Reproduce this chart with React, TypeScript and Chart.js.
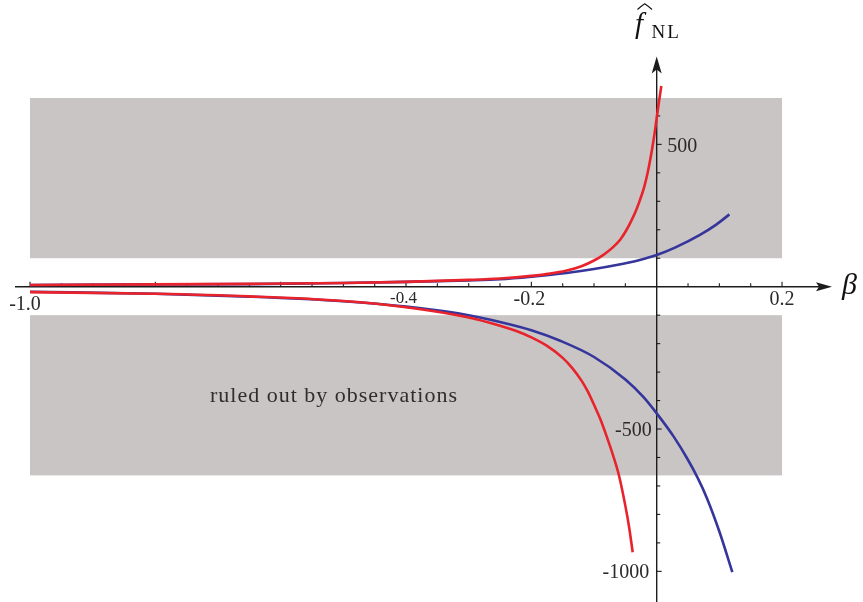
import React, { useEffect, useRef } from 'react';
import { Chart, registerables } from 'chart.js';

Chart.register(...registerables);

// ---- data ----
const redUpperBeta = [-1.0, -0.8, -0.65, -0.5, -0.4, -0.3, -0.25, -0.2, -0.17, -0.145, -0.12, -0.1, -0.085, -0.07, -0.058, -0.048, -0.04, -0.033, -0.0266, -0.02, -0.014, -0.008, -0.003, 0.002, 0.0074];
const redUpperF = [6, 8, 10, 13, 17, 24, 29, 38, 46, 56, 72, 92, 112, 138, 166, 200, 234, 268, 305, 350, 405, 475, 545, 625, 705];

const blueUpperBeta = [-1.0, -0.8, -0.65, -0.5, -0.4, -0.3, -0.25, -0.2, -0.144, -0.1, -0.064, -0.03, 0, 0.03, 0.069, 0.095, 0.116];
const blueUpperF = [6, 8, 9, 13, 17, 22, 26, 35, 48, 62, 76, 92, 111, 138, 182, 218, 254];

const redLowerBeta = [-1.0, -0.8, -0.65, -0.5, -0.4, -0.3, -0.25, -0.225, -0.2, -0.175, -0.15, -0.135, -0.12, -0.11, -0.1, -0.09, -0.08, -0.07, -0.06, -0.05, -0.044, -0.0383];
const redLowerF = [-19, -25, -34, -50, -72, -108, -137, -155, -178, -208, -250, -285, -330, -368, -415, -465, -525, -590, -665, -770, -845, -933];

const blueLowerBeta = [-1.0, -0.8, -0.65, -0.5, -0.4, -0.3, -0.25, -0.2, -0.154, -0.1, -0.05, -0.021, 0, 0.0266, 0.048, 0.065, 0.08, 0.1, 0.1207];
const blueLowerF = [-18, -25, -35, -51, -70, -100, -124, -153, -190, -247, -326, -388, -445, -525, -601, -670, -742, -860, -1003];

// shaded "ruled out" bands (|f| between inner and outer, beta between start and end)
const bandBetaRange = [-1.0, 0.2];
const bandInner = 100;
const bandOuter = 663;
const bandText = 'ruled out by observations';
const bandTextPos = [-0.515, -405];

// axis ticks / labels
const xTickStep = 0.05;
const xTickRange = [-1.0, 0.2];
const xLabelValues = [-1.0, -0.4, -0.2, 0.2];
const xLabelTexts = ['-1.0', '-0.4', '-0.2', '0.2'];
const yTickStep = 100;
const yTickRange = [-1000, 600];
const yLabelValues = [500, -500, -1000];
const yLabelTexts = ['500', '-500', '-1000'];

const X_MIN = -1.0479;
const X_MAX = 0.3292;
const Y_MIN = -1107.7;
const Y_MAX = 1007.2;

const RED = '#e8232b';
const BLUE = '#35359b';
const BAND = '#cac5c5';
const INK = '#1c1c1c';
const SERIF = '"Liberation Serif", "Times New Roman", serif';

const zip = (xs: number[], ys: number[]) => xs.map((x, i) => ({ x, y: ys[i] }));

const mathAxes = {
  id: 'mathAxes',
  beforeDatasetsDraw(chart: any) {
    const ctx = chart.ctx as CanvasRenderingContext2D;
    const xs = chart.scales.x;
    const ys = chart.scales.y;
    const px = (v: number) => xs.getPixelForValue(v);
    const py = (v: number) => ys.getPixelForValue(v);
    ctx.save();

    // bands
    ctx.fillStyle = BAND;
    const bx0 = px(bandBetaRange[0]);
    const bx1 = px(bandBetaRange[1]);
    ctx.fillRect(bx0, py(bandOuter), bx1 - bx0, py(bandInner) - py(bandOuter));
    ctx.fillRect(bx0, py(-bandInner), bx1 - bx0, py(-bandOuter) - py(-bandInner));

    // band caption
    ctx.fillStyle = '#2e2e2e';
    ctx.font = `22px ${SERIF}`;
    (ctx as any).letterSpacing = '1px';
    ctx.textAlign = 'center';
    ctx.textBaseline = 'alphabetic';
    ctx.fillText(bandText, px(bandTextPos[0]), py(bandTextPos[1]));
    (ctx as any).letterSpacing = '0px';

    const x0 = px(0);
    const y0 = py(0);
    ctx.strokeStyle = INK;
    ctx.fillStyle = INK;
    ctx.lineWidth = 1.4;

    // x axis
    const xStart = 15;
    const xTip = 832;
    ctx.beginPath();
    ctx.moveTo(xStart, y0);
    ctx.lineTo(xTip - 12, y0);
    ctx.stroke();
    ctx.beginPath();
    ctx.moveTo(xTip, y0);
    ctx.lineTo(xTip - 16, y0 - 4.5);
    ctx.lineTo(xTip - 13, y0);
    ctx.lineTo(xTip - 16, y0 + 4.5);
    ctx.closePath();
    ctx.fill();

    // y axis
    const yTip = 56.5;
    const yBottom = chart.height;
    ctx.beginPath();
    ctx.moveTo(x0, yBottom);
    ctx.lineTo(x0, yTip + 12);
    ctx.stroke();
    ctx.beginPath();
    ctx.moveTo(x0, yTip);
    ctx.lineTo(x0 - 5, yTip + 17);
    ctx.lineTo(x0, yTip + 13);
    ctx.lineTo(x0 + 5, yTip + 17);
    ctx.closePath();
    ctx.fill();

    // x ticks (upwards)
    ctx.lineWidth = 1.1;
    const nx = Math.round((xTickRange[1] - xTickRange[0]) / xTickStep);
    for (let i = 0; i <= nx; i++) {
      const v = xTickRange[0] + i * xTickStep;
      if (Math.abs(v) < 1e-9) continue;
      const major = Math.abs(Math.round(v / 0.2) * 0.2 - v) < 1e-6;
      const len = major ? 5 : 3.5;
      const x = px(v);
      ctx.beginPath();
      ctx.moveTo(x, y0);
      ctx.lineTo(x, y0 - len);
      ctx.stroke();
    }
    // y ticks (to the right)
    const ny = Math.round((yTickRange[1] - yTickRange[0]) / yTickStep);
    for (let i = 0; i <= ny; i++) {
      const v = yTickRange[0] + i * yTickStep;
      if (v === 0) continue;
      const major = v % 500 === 0;
      const len = major ? 5 : 3.5;
      const y = py(v);
      ctx.beginPath();
      ctx.moveTo(x0, y);
      ctx.lineTo(x0 + len, y);
      ctx.stroke();
    }

    // x labels
    ctx.fillStyle = '#2a2a2a';
    ctx.textAlign = 'center';
    ctx.textBaseline = 'alphabetic';
    xLabelValues.forEach((v, i) => {
      const t = xLabelTexts[i];
      let size = 20;
      let dx = -2;
      let dy = 18.3;
      if (t === '-1.0') { dx = -5; dy = 23.3; }
      if (t === '-0.4') { size = 17; dx = -2.5; dy = 16.6; }
      if (t === '0.2') { dx = 0; }
      ctx.font = `${size}px ${SERIF}`;
      ctx.fillText(t, px(v) + dx, y0 + dy);
    });

    // y labels
    yLabelValues.forEach((v, i) => {
      const t = yLabelTexts[i];
      ctx.font = `20px ${SERIF}`;
      if (v > 0) {
        ctx.textAlign = 'left';
        ctx.fillText(t, x0 + 10.5, py(v) + 8);
      } else {
        ctx.textAlign = 'right';
        ctx.fillText(t, x0 - (v === -1000 ? 7.5 : 5), py(v) + 7);
      }
    });

    // axis titles
    ctx.fillStyle = '#111';
    ctx.textAlign = 'left';
    ctx.font = `italic 30px ${SERIF}`;
    ctx.fillText('\u03B2', 842, y0 + 7.5);

    ctx.font = `italic 29px ${SERIF}`;
    ctx.fillText('f', 635, 33);
    ctx.font = `19px ${SERIF}`;
    (ctx as any).letterSpacing = '2px';
    ctx.fillText('NL', 651.5, 38.3);
    (ctx as any).letterSpacing = '0px';
    // wide hat over f
    ctx.strokeStyle = '#111';
    ctx.lineWidth = 1.1;
    ctx.beginPath();
    ctx.moveTo(637.5, 9.5);
    ctx.quadraticCurveTo(641.5, 6, 644.7, 3.8);
    ctx.quadraticCurveTo(648, 6, 652, 9.5);
    ctx.stroke();

    ctx.restore();
  },
};

export default function App() {
  const canvasRef = useRef<HTMLCanvasElement | null>(null);

  useEffect(() => {
    const canvas = canvasRef.current;
    if (!canvas) return;
    const line = (label: string, bx: number[], fy: number[], color: string) => ({
      label,
      data: zip(bx, fy),
      borderColor: color,
      backgroundColor: color,
      borderWidth: 2.6,
      pointRadius: 0,
      fill: false,
      cubicInterpolationMode: 'monotone' as const,
      clip: false as any,
    });
    const chart = new Chart(canvas, {
      type: 'line',
      data: {
        datasets: [
          line('red upper', redUpperBeta, redUpperF, RED),
          line('red lower', redLowerBeta, redLowerF, RED),
          line('blue upper', blueUpperBeta, blueUpperF, BLUE),
          line('blue lower', blueLowerBeta, blueLowerF, BLUE),
        ],
      },
      options: {
        animation: false,
        responsive: false,
        maintainAspectRatio: false,
        layout: { padding: 0 },
        plugins: {
          legend: { display: false },
          tooltip: { enabled: false },
          title: { display: false },
        },
        events: [],
        scales: {
          x: { type: 'linear', min: X_MIN, max: X_MAX, display: false },
          y: { type: 'linear', min: Y_MIN, max: Y_MAX, display: false },
        },
      },
      plugins: [mathAxes],
    });
    return () => chart.destroy();
  }, []);

  return (
    <div style={{ position: 'absolute', left: 0, top: 0, width: 863, height: 602, background: '#fff' }}>
      <canvas ref={canvasRef} width={863} height={602} style={{ display: 'block' }} />
    </div>
  );
}
